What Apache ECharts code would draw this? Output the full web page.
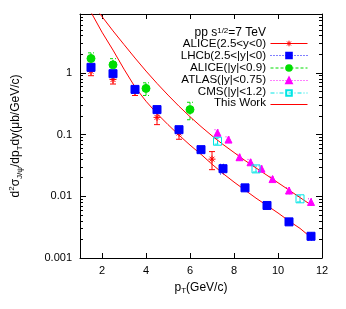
<!DOCTYPE html>
<html><head><meta charset="utf-8">
<script src="https://cdn.jsdelivr.net/npm/echarts@6/dist/echarts.min.js"></script>
<style>html,body{margin:0;padding:0;background:#fff}#c{width:346px;height:309px}</style>
</head><body><div id="c"></div>
<script>
// ---- tick labels ----
const xTicks = [2, 4, 6, 8, 10, 12];
const yTicks = [0.001, 0.01, 0.1, 1];
const yTickLabels = ['0.001', '0.01', '0.1', '1'];
const yMinorTicks = [];
[0.001, 0.01, 0.1, 1].forEach(d => { for (let k = 2; k <= 9; k++) { if (d * k <= 9) yMinorTicks.push(d * k); } });

// ---- data ----
const aliceFwdPt  = [1.5, 2.5, 3.5, 4.5, 5.5, 7];
const aliceFwdVal = [1.06, 0.78, 0.50, 0.19, 0.106, 0.040];
const aliceFwdErr = [0.16, 0.12, 0.07, 0.045, 0.022, 0.013];

const lhcbPt  = [1.5, 2.5, 3.5, 4.5, 5.5, 6.5, 7.5, 8.5, 9.5, 10.5, 11.5];
const lhcbVal = [1.23, 0.97, 0.54, 0.254, 0.12, 0.057, 0.028, 0.0137, 0.0071, 0.00385, 0.00225];
const lhcbErr = [0.09, 0.07, 0.04, 0.02, 0.01, 0.005, 0.005, 0.0012, 0.0006, 0.0004, 0.0003];

const aliceMidPt  = [1.5, 2.5, 4, 6];
const aliceMidVal = [1.71, 1.35, 0.56, 0.254];
const aliceMidErr = [0.4, 0.35, 0.13, 0.08];

const atlasPt  = [7.25, 7.75, 8.25, 8.75, 9.25, 9.75, 10.5, 11.5];
const atlasVal = [0.107, 0.083, 0.043, 0.0356, 0.028, 0.019, 0.0124, 0.0081];
const atlasErr = [0.013, 0.009, 0.005, 0.004, 0.003, 0.002, 0.0014, 0.001];

const cmsPt  = [7.25, 9, 11];
const cmsVal = [0.078, 0.0278, 0.0091];
const cmsErr = [0.008, 0.003, 0.001];

const curveLowPt  = [1.5, 2.0, 2.5, 3.0, 3.5, 4.0, 4.5, 5.0, 5.5, 6.0, 6.5, 7.0, 7.5, 8.0, 8.5, 9.0, 9.5, 10.0, 10.5, 11.0, 11.5];
const curveLowVal = [9.6, 4.57, 2.34, 1.15, 0.59, 0.347, 0.219, 0.145, 0.098, 0.0676, 0.0479, 0.0331, 0.0234, 0.0170, 0.0126, 0.00933, 0.00708, 0.00537, 0.00398, 0.00302, 0.00215];

const curveHighPt  = [1.88, 2.5, 3.0, 3.5, 4.0, 4.5, 5.0, 5.5, 6.0, 6.5, 7.0, 7.5, 8.0, 8.5, 9.0, 9.5, 10.0, 10.5, 11.0, 11.5];
const curveHighVal = [9.3, 4.79, 2.88, 1.74, 1.07, 0.676, 0.437, 0.288, 0.195, 0.135, 0.0955, 0.0692, 0.0513, 0.038, 0.0288, 0.0219, 0.0166, 0.0126, 0.00955, 0.00724];

const legendNames = ['ALICE(2.5<y<0)', 'LHCb(2.5<|y|<0)', 'ALICE(|y|<0.9)', 'ATLAS(|y|<0.75)', 'CMS(|y|<1.2)', 'This Work'];

// ---- helpers ----
const FONT = 'Liberation Sans';
const zip = (a, b) => a.map((v, i) => [v, b[i]]);
const errData = (x, v, e) => x.map((p, i) => [p, Math.max(v[i] - e[i], 1e-6), v[i] + e[i]]);

function errSeries(x, v, e, color, dash) {
  return {
    type: 'custom', silent: true, clip: true, z: 1,
    data: errData(x, v, e),
    encode: { x: 0, y: [1, 2] },
    renderItem: function (params, api) {
      const px = api.value(0);
      const a = api.coord([px, api.value(1)]);
      const b = api.coord([px, api.value(2)]);
      const w = 3;
      const st = { stroke: color, lineWidth: 1, lineDash: dash, fill: null };
      return { type: 'group', children: [
        { type: 'line', shape: { x1: a[0], y1: a[1], x2: b[0], y2: b[1] }, style: st },
        { type: 'line', shape: { x1: a[0] - w, y1: a[1], x2: a[0] + w, y2: a[1] }, style: st },
        { type: 'line', shape: { x1: b[0] - w, y1: b[1], x2: b[0] + w, y2: b[1] }, style: st }
      ] };
    }
  };
}

function pointSeries(name, x, v, symbol, size, color, fill, lineType) {
  return {
    name: name, type: 'line', data: zip(x, v), symbol: symbol, symbolSize: size,
    showSymbol: true, showAllSymbol: true, z: 3,
    lineStyle: { opacity: 0, width: 1, color: color, type: lineType },
    itemStyle: { color: fill, borderColor: color, borderWidth: 1, opacity: 1 },
    emphasis: { disabled: true }
  };
}

const RED = '#ff0000', BLUE = '#0000ff', GREEN = '#00dd00', MAG = '#ff00ff', CYAN = '#00e5e5';
const asterisk = 'path://M0,5L10,5M5,0L5,10M1.5,1.5L8.5,8.5M8.5,1.5L1.5,8.5';

const axisFmtY = v => {
  for (let i = 0; i < yTicks.length; i++) if (Math.abs(Math.log10(v) - Math.log10(yTicks[i])) < 1e-6) return yTickLabels[i];
  return '';
};

const baseY = { type: 'log', logBase: 10, min: 0.001, max: 9, splitLine: { show: false } };
const baseX = { type: 'value', min: 1, max: 12, splitLine: { show: false } };

// both theory curves in one series, separated by a gap
const curveData = zip(curveLowPt, curveLowVal).concat([[curveHighPt[0], null]]).concat(zip(curveHighPt, curveHighVal));

// legend labels (drawn as text, right-aligned next to the legend samples)
const LEG_TOP = 43.7, LEG_STEP = 11.9, LEG_TEXT_RIGHT = 266;
const legendLabels = legendNames.map((n, i) => ({
  type: 'text', x: LEG_TEXT_RIGHT, y: LEG_TOP + i * LEG_STEP, silent: true,
  style: { text: n, align: 'right', verticalAlign: 'middle', fontSize: 11.6, fontFamily: FONT, fill: '#000' }
}));

const chart = echarts.init(document.getElementById('c'), null, { renderer: 'canvas' });
chart.setOption({
  animation: false,
  backgroundColor: '#fff',
  textStyle: { fontFamily: FONT },
  grid: { left: 80, right: 24, top: 14, bottom: 51 },
  xAxis: [
    Object.assign({}, baseX, {
      position: 'bottom',
      name: '{p|p}{s|T}{p|(GeV/c)}', nameLocation: 'middle', nameGap: 22,
      nameTextStyle: { rich: { p: { fontSize: 12, fontFamily: FONT, color: '#000', lineHeight: 15 },
                               s: { fontSize: 8, fontFamily: FONT, color: '#000', lineHeight: 8, verticalAlign: 'bottom' } } },
      axisLine: { show: true, lineStyle: { color: '#000', width: 1 } },
      axisTick: { show: true, inside: true, length: 5, customValues: xTicks, lineStyle: { color: '#000' } },
      axisLabel: { show: true, customValues: xTicks, margin: 7, fontSize: 11, color: '#000', fontFamily: FONT }
    }),
    Object.assign({}, baseX, {
      position: 'top',
      axisLine: { show: true, lineStyle: { color: '#000', width: 1 } },
      axisTick: { show: true, inside: true, length: 5, customValues: xTicks, lineStyle: { color: '#000' } },
      axisLabel: { show: false }
    })
  ],
  yAxis: [
    Object.assign({}, baseY, {
      position: 'left',
      name: '{a|d}{sup|2}{a|σ}{sub|J/ψ}{a|/dp}{sub|T}{a|dy(μb/GeV/c)}', nameLocation: 'middle', nameGap: 56, nameRotate: 90,
      nameTextStyle: { rich: {
        a: { fontSize: 12, fontFamily: FONT, color: '#000', lineHeight: 16 },
        sup: { fontSize: 8, fontFamily: FONT, color: '#000', lineHeight: 9, verticalAlign: 'top' },
        sub: { fontSize: 8, fontFamily: FONT, color: '#000', lineHeight: 9, verticalAlign: 'bottom' } } },
      axisLine: { show: true, lineStyle: { color: '#000', width: 1 } },
      axisTick: { show: true, inside: true, length: 6, customValues: yTicks, lineStyle: { color: '#000' } },
      axisLabel: { show: true, customValues: yTicks, formatter: axisFmtY, margin: 8, fontSize: 11, color: '#000', fontFamily: FONT }
    }),
    Object.assign({}, baseY, {
      position: 'right',
      axisLine: { show: true, lineStyle: { color: '#000', width: 1 } },
      axisTick: { show: true, inside: true, length: 6, customValues: yTicks, lineStyle: { color: '#000' } },
      axisLabel: { show: false }
    }),
    Object.assign({}, baseY, {
      position: 'left',
      axisLine: { show: false },
      axisTick: { show: true, inside: true, length: 3, customValues: yMinorTicks, lineStyle: { color: '#000' } },
      axisLabel: { show: false }
    }),
    Object.assign({}, baseY, {
      position: 'right',
      axisLine: { show: false },
      axisTick: { show: true, inside: true, length: 3, customValues: yMinorTicks, lineStyle: { color: '#000' } },
      axisLabel: { show: false }
    })
  ],
  legend: {
    orient: 'vertical', align: 'right', right: 38, top: LEG_TOP - 3.5, padding: 0,
    itemWidth: 37, itemHeight: 7, itemGap: LEG_STEP - 7,
    formatter: () => '',
    textStyle: { fontSize: 1, lineHeight: 1, fontFamily: FONT, color: '#000' },
    data: [
      { name: legendNames[0], lineStyle: { opacity: 1, width: 1, type: 'solid' }, itemStyle: { borderColor: RED, borderWidth: 1 } },
      { name: legendNames[1], lineStyle: { opacity: 1, width: 1, type: [1, 2] } },
      { name: legendNames[2], lineStyle: { opacity: 1, width: 1, type: [3, 2] } },
      { name: legendNames[3], lineStyle: { opacity: 1, width: 1, type: [1, 2] } },
      { name: legendNames[4], lineStyle: { opacity: 1, width: 1, type: [4, 2, 1, 2] } },
      { name: legendNames[5], lineStyle: { opacity: 1, width: 1, type: 'solid' }, itemStyle: { opacity: 0 } }
    ],
    selectedMode: false
  },
  graphic: [
    {
      type: 'text', right: 80, top: 27, silent: true,
      style: {
        text: '{a|pp s}{b|1/2}{a|=7 TeV}',
        rich: { a: { fontSize: 12, fontFamily: FONT, fill: '#000' },
                b: { fontSize: 8, fontFamily: FONT, fill: '#000', verticalAlign: 'top' } }
      }
    }
  ].concat(legendLabels),
  series: [
    {
      name: legendNames[5], type: 'line', data: curveData, connectNulls: false,
      showSymbol: false, symbol: 'none', clip: true, z: 2,
      lineStyle: { color: RED, width: 1 }, itemStyle: { color: RED }, emphasis: { disabled: true }
    },
    errSeries(aliceFwdPt, aliceFwdVal, aliceFwdErr, RED, null),
    errSeries(lhcbPt, lhcbVal, lhcbErr, BLUE, [1, 2]),
    errSeries(aliceMidPt, aliceMidVal, aliceMidErr, GREEN, [3, 2]),
    errSeries(atlasPt, atlasVal, atlasErr, MAG, [1, 2]),
    errSeries(cmsPt, cmsVal, cmsErr, CYAN, [4, 2, 1, 2]),
    pointSeries(legendNames[0], aliceFwdPt, aliceFwdVal, asterisk, 7, RED, RED, 'solid'),
    pointSeries(legendNames[1], lhcbPt, lhcbVal, 'rect', 8, BLUE, BLUE, [1, 2]),
    pointSeries(legendNames[2], aliceMidPt, aliceMidVal, 'circle', 8, GREEN, GREEN, [3, 2]),
    pointSeries(legendNames[3], atlasPt, atlasVal, 'triangle', 7, MAG, MAG, [1, 2]),
    pointSeries(legendNames[4], cmsPt, cmsVal, 'rect', 8, CYAN, 'rgba(0,0,0,0)', [4, 2, 1, 2])
  ]
});
</script>
</body></html>
